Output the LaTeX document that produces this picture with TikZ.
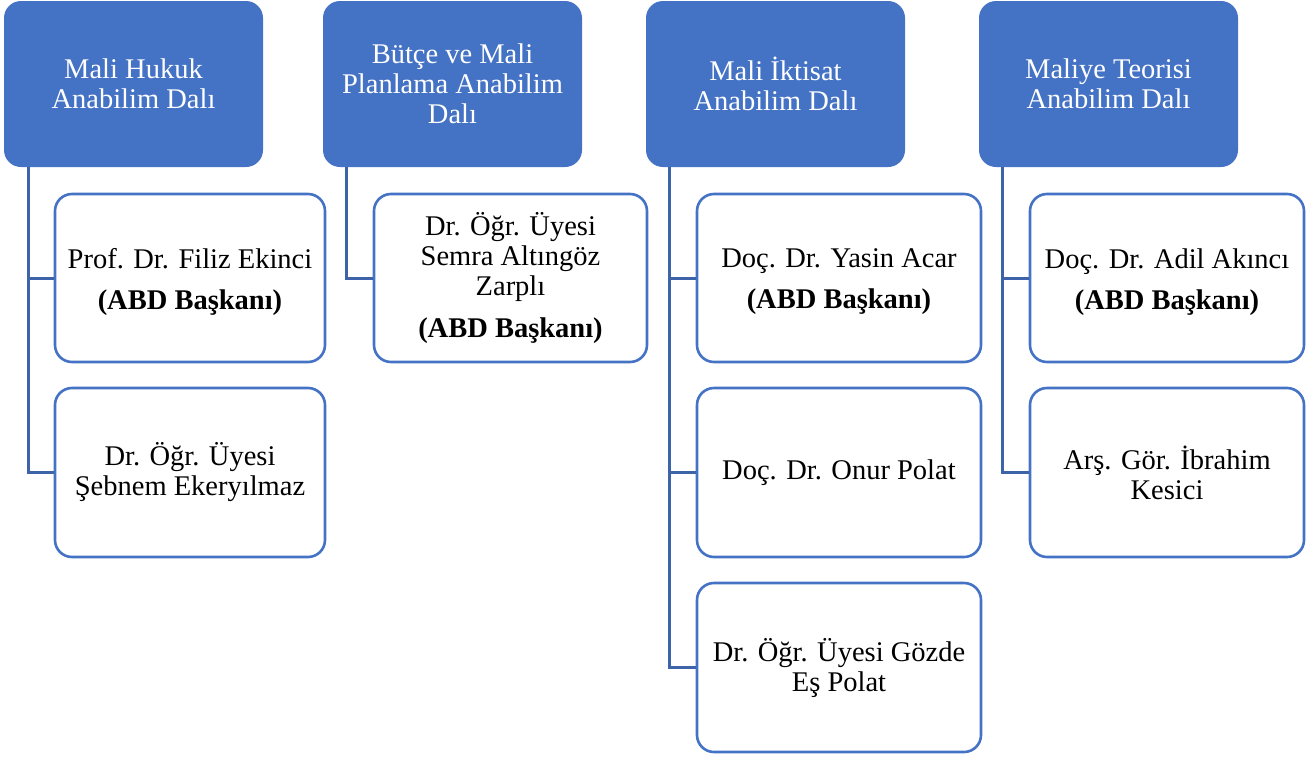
\documentclass[tikz,border=0pt]{standalone}
\usepackage{fontspec}
\setmainfont{Liberation Serif}
\definecolor{hdrblue}{HTML}{4472C4}
\definecolor{boxline}{HTML}{4472C4}
\definecolor{conline}{HTML}{3D63A8}
\begin{document}
\begin{tikzpicture}[x=1pt,y=-1pt,
  hdr/.style={draw=none, fill=hdrblue, rounded corners=17pt, text=white,
    minimum width=259pt, minimum height=166pt, align=center, inner sep=0pt,
    font=\fontsize{28.5}{30}\selectfont},
  member/.style={draw=boxline, line width=2.6pt, fill=white, rounded corners=17pt,
    align=center, inner sep=0pt, font=\fontsize{28.5}{30}\selectfont},
  txt/.style={align=center, inner sep=0pt, font=\fontsize{28.5}{30}\selectfont},
  conn/.style={draw=conline, line width=3pt}]
\useasboundingbox (0,0) rectangle (1310,758);

% headers
\node[hdr] (H1) at (133.5,84) {Mali Hukuk\\Anabilim Dalı};
\node[hdr] (H2) at (452.5,84) {Bütçe ve Mali\\Planlama Anabilim\\Dalı};
\node[hdr] (H3) at (775.5,84) {Mali İktisat\\Anabilim Dalı};
\node[hdr] (H4) at (1108.5,84) {Maliye Teorisi\\Anabilim Dalı};

% members column 1
\node[member, minimum width=270pt, minimum height=168pt] (C1a) at (190,278) {};
\node[txt] (T1a) at ([yshift=-4pt]C1a.center)
  {Prof. Dr. Filiz Ekinci\\[11pt]\textbf{(ABD Başkanı)}};
\node[member, minimum width=270pt, minimum height=169pt] (C1b) at (190,472.5)
  {Dr. Öğr. Üyesi\\Şebnem Ekeryılmaz};

% column 2
\node[member, minimum width=273pt, minimum height=168pt] (C2a) at (510.5,278)
  {Dr. Öğr. Üyesi\\Semra Altıngöz\\Zarplı\\[12pt]\textbf{(ABD Başkanı)}};

% column 3
\node[member, minimum width=284pt, minimum height=168pt] (C3a) at (839,278) {};
\node[txt] (T3a) at ([yshift=-4pt]C3a.center)
  {Doç. Dr. Yasin Acar\\[11pt]\textbf{(ABD Başkanı)}};
\node[member, minimum width=284pt, minimum height=169pt] (C3b) at (839,472.5)
  {Doç. Dr. Onur Polat};
\node[member, minimum width=284pt, minimum height=169pt] (C3c) at (839,667.5)
  {Dr. Öğr. Üyesi Gözde\\Eş Polat};

% column 4
\node[member, minimum width=274pt, minimum height=168pt] (C4a) at (1167,278) {};
\node[txt] (T4a) at ([yshift=-4pt]C4a.center)
  {Doç. Dr. Adil Akıncı\\[11pt]\textbf{(ABD Başkanı)}};
\node[member, minimum width=274pt, minimum height=169pt] (C4b) at (1167,472.5)
  {Arş. Gör. İbrahim\\Kesici};

% connectors
\draw[conn] ([xshift=25pt]H1.south west) |- (C1a.west);
\draw[conn] ([xshift=25pt]H1.south west) |- (C1b.west);
\draw[conn] ([xshift=24pt]H2.south west) |- (C2a.west);
\draw[conn] ([xshift=24pt]H3.south west) |- (C3a.west);
\draw[conn] ([xshift=24pt]H3.south west) |- (C3b.west);
\draw[conn] ([xshift=24pt]H3.south west) |- (C3c.west);
\draw[conn] ([xshift=24pt]H4.south west) |- (C4a.west);
\draw[conn] ([xshift=24pt]H4.south west) |- (C4b.west);
\end{tikzpicture}
\end{document}
